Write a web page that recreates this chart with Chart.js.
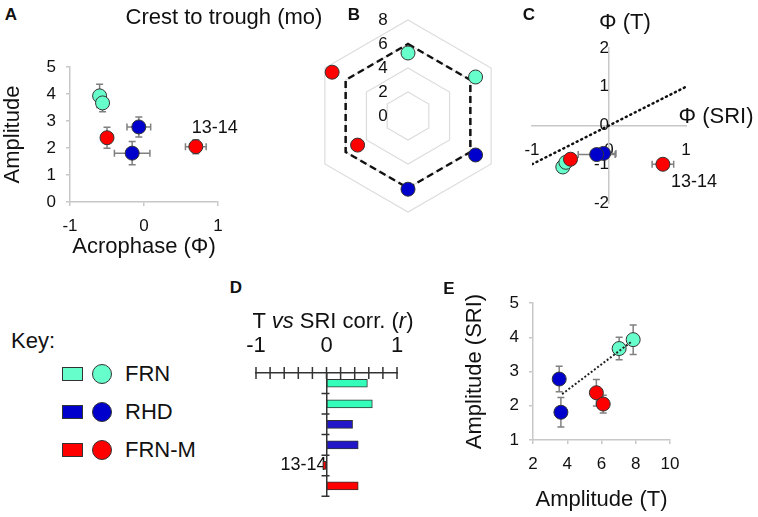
<!DOCTYPE html>
<html>
<head>
<meta charset="utf-8">
<script src="https://cdn.jsdelivr.net/npm/chart.js@4.4.1/dist/chart.umd.min.js"></script>
<style>
  body { margin: 0; background: #fff; }
  #fig { position: relative; width: 758px; height: 517px; overflow: hidden;
         font-family: "Liberation Sans", Arial, sans-serif; color: #111; }
  #fig canvas { position: absolute; }
  .lbl { position: absolute; transform: translate(-50%, -50%); line-height: 1; white-space: nowrap; }
  .big { font-size: 22px; }
  .tag { font-size: 17px; font-weight: bold; }
  .keytxt { position: absolute; transform: translate(0, -50%); line-height: 1; font-size: 22px; }
  .sw { position: absolute; border: 1px solid #333; box-sizing: border-box; }
  .dot { position: absolute; border: 1px solid #333; box-sizing: border-box; border-radius: 50%; }
</style>
</head>
<body>
<div id="fig">
  <canvas id="chartA" width="240" height="220" style="left:0;top:40px"></canvas>
  <canvas id="chartB" width="232" height="232" style="left:292px;top:0"></canvas>
  <canvas id="chartC" width="248" height="200" style="left:510px;top:30px"></canvas>
  <canvas id="chartD" width="250" height="217" style="left:200px;top:300px"></canvas>
  <canvas id="chartE" width="308" height="247" style="left:450px;top:270px"></canvas>

  <div class="lbl tag" style="left:11px;top:14px">A</div>
  <div class="lbl big" style="left:224px;top:17px">Crest to trough (mo)</div>
  <div class="lbl tag" style="left:354px;top:14px">B</div>
  <div class="lbl tag" style="left:529px;top:14px">C</div>
  <div class="lbl big" style="left:625px;top:22px">Φ (T)</div>
  <div class="lbl big" style="left:716px;top:116px">Φ (SRI)</div>
  <div class="lbl tag" style="left:236px;top:287px">D</div>
  <div class="lbl big" style="left:333px;top:321px">T <i>vs</i> SRI corr. (<i>r</i>)</div>
  <div class="lbl tag" style="left:449px;top:288px">E</div>

  <div class="lbl big" style="left:33px;top:341px">Key:</div>
  <div id="key"></div>
</div>

<script>
// Group of each entry (same order in A, B, C and E)
const groups = ['FRN', 'FRN', 'RHD', 'RHD', 'FRN-M', 'FRN-M'];
const notes = ['', '', '', '', '', '13-14'];

// A: SRI rhythm acrophase and amplitude
const sriPhase = [-0.6, -0.56, -0.07, -0.16, -0.5, 0.7];
const sriPhaseErr = [0.05, 0.04, 0.16, 0.24, 0.05, 0.14];
const sriAmp = [3.93, 3.67, 2.78, 1.81, 2.38, 2.05];
const sriAmpErr = [0.43, 0.33, 0.37, 0.43, 0.39, 0.26];

// B: crest to trough (months)
const crestTrough = [5.25, 6.5, 6.5, 6.1, 4.85, 7.3];
const crestRef = [6, 6, 6, 6, 6, 6];

// C: temperature acrophase vs SRI acrophase
const tPhase = [-1.07, -0.95, -0.72, -0.75, -0.87, -1.0];
const diagLine = [-1, 1];

// D: T vs SRI correlation, as listed top to bottom
const corrGroups = ['FRN', 'FRN', 'RHD', 'RHD', 'FRN-M', 'FRN-M'];
const corrLabels = ['', '', '', '', '13-14', ''];
const corrR = [0.58, 0.65, 0.37, 0.45, -0.05, 0.45];

// E: temperature amplitude vs SRI amplitude
const tAmp = [7.85, 7.03, 3.53, 3.63, 5.7, 6.1];
const trendX = [3.7, 7.8];
const trendY = [2.34, 3.89];

const keyGroups = ['FRN', 'RHD', 'FRN-M'];

const groupColor = { 'FRN': '#66FFCC', 'RHD': '#0000CC', 'FRN-M': '#FF0000' };
const barColor = { 'FRN': '#33FFBB', 'RHD': '#2318C8', 'FRN-M': '#FF0000' };
const FONT = '"Liberation Sans", Arial, sans-serif';
const AXIS_GRAY = '#c8c8c8';

Chart.defaults.font.family = FONT;
Chart.defaults.color = '#111';
Chart.defaults.animation = false;
Chart.defaults.plugins.legend.display = false;
Chart.defaults.plugins.tooltip.enabled = false;

// error bars from dataset.errX / dataset.errY
const errorBars = {
  id: 'errorBars',
  beforeDatasetsDraw(chart) {
    const { ctx, scales: { x, y } } = chart;
    const cap = 3.5;
    ctx.save();
    ctx.strokeStyle = '#808080';
    ctx.lineWidth = 1.5;
    chart.data.datasets.forEach(ds => {
      if (!ds.errX && !ds.errY) return;
      ds.data.forEach((p, i) => {
        const px = x.getPixelForValue(p.x), py = y.getPixelForValue(p.y);
        ctx.beginPath();
        if (ds.errX && ds.errX[i]) {
          const x0 = x.getPixelForValue(p.x - ds.errX[i]), x1 = x.getPixelForValue(p.x + ds.errX[i]);
          ctx.moveTo(x0, py); ctx.lineTo(x1, py);
          ctx.moveTo(x0, py - cap); ctx.lineTo(x0, py + cap);
          ctx.moveTo(x1, py - cap); ctx.lineTo(x1, py + cap);
        }
        if (ds.errY && ds.errY[i]) {
          const y0 = y.getPixelForValue(p.y - ds.errY[i]), y1 = y.getPixelForValue(p.y + ds.errY[i]);
          ctx.moveTo(px, y0); ctx.lineTo(px, y1);
          ctx.moveTo(px - cap, y0); ctx.lineTo(px + cap, y0);
          ctx.moveTo(px - cap, y1); ctx.lineTo(px + cap, y1);
        }
        ctx.stroke();
      });
    });
    ctx.restore();
  }
};

// small text next to a point (the "13-14" note)
const pointNotes = {
  id: 'pointNotes',
  afterDatasetsDraw(chart, args, opts) {
    const ctx = chart.ctx;
    ctx.save();
    ctx.font = '18px ' + FONT;
    ctx.fillStyle = '#111';
    ctx.textAlign = 'center';
    ctx.textBaseline = 'middle';
    chart.data.datasets.forEach((ds, d) => {
      if (!ds.notes) return;
      chart.getDatasetMeta(d).data.forEach((el, i) => {
        if (ds.notes[i]) ctx.fillText(ds.notes[i], el.x + opts.dx, el.y + opts.dy);
      });
    });
    ctx.restore();
  }
};

// radar tick labels, drawn a bit left of the top spoke
const radarTickLabels = {
  id: 'radarTickLabels',
  afterDatasetsDraw(chart, args, opts) {
    const r = chart.scales.r, ctx = chart.ctx;
    ctx.save();
    ctx.font = '17px ' + FONT;
    ctx.fillStyle = '#111';
    ctx.textAlign = 'center';
    ctx.textBaseline = 'middle';
    r.ticks.forEach(t => {
      ctx.fillText(String(t.value), r.xCenter + opts.dx, r.yCenter - r.getDistanceFromCenterForValue(t.value));
    });
    ctx.restore();
  }
};

// tick marks crossing the axis lines in D
const crossTicks = {
  id: 'crossTicks',
  afterDraw(chart) {
    const { ctx, scales: { x, y } } = chart;
    const top = y.top, x0 = x.getPixelForValue(0);
    ctx.save();
    ctx.strokeStyle = '#333';
    ctx.lineWidth = 1.5;
    ctx.beginPath();
    x.ticks.forEach(t => {
      const px = x.getPixelForValue(t.value);
      ctx.moveTo(px, top - 6); ctx.lineTo(px, top + 6);
    });
    for (let i = 1; i <= corrR.length; i++) {
      const py = y.getPixelForValue(i - 0.5);
      ctx.moveTo(x0 - 5, py); ctx.lineTo(x0 + 3, py);
    }
    ctx.stroke();
    ctx.restore();
  }
};

const pointColors = groups.map(g => groupColor[g]);
const pointStyle = {
  pointRadius: 7,
  pointBackgroundColor: pointColors,
  pointBorderColor: '#333',
  pointBorderWidth: 1,
  clip: false
};

function grayAxis(min, max, step, extra) {
  return Object.assign({
    type: 'linear', min, max,
    ticks: { stepSize: step, font: { size: 17 }, padding: 10 },
    grid: { drawOnChartArea: false, drawTicks: true, tickLength: 4, color: AXIS_GRAY, lineWidth: 1.5 },
    border: { color: AXIS_GRAY, width: 1.5 }
  }, extra);
}

// A
new Chart(document.getElementById('chartA'), {
  type: 'scatter',
  data: {
    datasets: [Object.assign({
      data: sriPhase.map((x, i) => ({ x, y: sriAmp[i] })),
      errX: sriPhaseErr, errY: sriAmpErr, notes
    }, pointStyle)]
  },
  options: {
    responsive: false,
    layout: { padding: { top: 27, right: 22 } },
    plugins: { pointNotes: { dx: 19, dy: -19 } },
    scales: {
      x: grayAxis(-1, 1, 1, {
        title: { display: true, text: 'Acrophase (Φ)', font: { size: 22 }, padding: 0 },
        afterFit: s => { s.height = 58; }
      }),
      y: grayAxis(0, 5, 1, {
        title: { display: true, text: 'Amplitude', font: { size: 22 }, padding: 0 },
        afterFit: s => { s.width = 70; }
      })
    }
  },
  plugins: [errorBars, pointNotes]
});

// B
new Chart(document.getElementById('chartB'), {
  type: 'radar',
  data: {
    labels: groups,
    datasets: [{
      data: crestTrough,
      showLine: false,
      fill: false,
      borderWidth: 0,
      pointRadius: 7,
      pointBackgroundColor: pointColors,
      pointBorderColor: '#333',
      pointBorderWidth: 1
    }, {
      data: crestRef,
      fill: false,
      borderColor: '#111',
      borderWidth: 2.5,
      borderDash: [7, 4],
      pointRadius: 0
    }]
  },
  options: {
    responsive: false,
    layout: { padding: 20 },
    elements: { line: { tension: 0 } },
    plugins: { radarTickLabels: { dx: -25 } },
    scales: {
      r: {
        min: 0, max: 8,
        ticks: { stepSize: 2, display: false },
        grid: { color: '#dcdcdc', lineWidth: 1.2 },
        angleLines: { display: false },
        pointLabels: { display: false }
      }
    }
  },
  plugins: [radarTickLabels]
});

// C
new Chart(document.getElementById('chartC'), {
  type: 'scatter',
  data: {
    datasets: [{
      data: diagLine.map(v => ({ x: v, y: v })),
      showLine: true,
      borderColor: '#111',
      borderWidth: 2.5,
      borderDash: [1, 4],
      borderCapStyle: 'round',
      pointRadius: 0
    }, Object.assign({
      data: sriPhase.map((x, i) => ({ x, y: tPhase[i] })),
      errX: sriPhaseErr, notes
    }, pointStyle)]
  },
  options: {
    responsive: false,
    layout: { padding: { left: 22, right: 72, top: 18, bottom: 27 } },
    plugins: { pointNotes: { dx: 31, dy: 18 } },
    scales: {
      x: {
        type: 'linear', min: -1, max: 1, position: { y: 0 },
        ticks: { stepSize: 1, font: { size: 17 }, padding: 7 },
        grid: { display: false },
        border: { color: AXIS_GRAY, width: 1.5 }
      },
      y: {
        type: 'linear', min: -2, max: 2, position: { x: 0 },
        ticks: { stepSize: 1, font: { size: 17 }, padding: 6 },
        grid: { display: false },
        border: { color: AXIS_GRAY, width: 1.5 }
      }
    }
  },
  plugins: [errorBars, pointNotes]
});

// D
new Chart(document.getElementById('chartD'), {
  type: 'bar',
  data: {
    labels: corrLabels,
    datasets: [{
      data: corrR,
      backgroundColor: corrGroups.map(g => barColor[g]),
      borderColor: '#333',
      borderWidth: 1,
      borderSkipped: false,
      barThickness: 8
    }]
  },
  options: {
    responsive: false,
    indexAxis: 'y',
    layout: { padding: { left: 56, right: 53, bottom: 9 } },
    scales: {
      x: {
        type: 'linear', position: 'top', min: -1, max: 1,
        ticks: {
          stepSize: 0.2, autoSkip: false, maxRotation: 0, minRotation: 0,
          font: { size: 22 }, padding: 14,
          callback: v => Math.abs(v - Math.round(v)) < 1e-6 ? String(Math.round(v)) : ''
        },
        grid: { drawOnChartArea: false, drawTicks: false },
        border: { color: '#333', width: 1.5 },
        afterFit: s => { s.height = 73; }
      },
      y: {
        type: 'category', position: { x: 0 }, offset: true,
        ticks: { font: { size: 18 }, padding: 10 },
        grid: { drawOnChartArea: false, drawTicks: false },
        border: { color: '#333', width: 1.5 }
      }
    }
  },
  plugins: [crossTicks]
});

// E
new Chart(document.getElementById('chartE'), {
  type: 'scatter',
  data: {
    datasets: [{
      data: trendX.map((x, i) => ({ x, y: trendY[i] })),
      showLine: true,
      borderColor: '#222',
      borderWidth: 2,
      borderDash: [2, 2],
      pointRadius: 0
    }, Object.assign({
      data: tAmp.map((x, i) => ({ x, y: sriAmp[i] })),
      errY: sriAmpErr
    }, pointStyle)]
  },
  options: {
    responsive: false,
    layout: { padding: { top: 33, right: 88 } },
    scales: {
      x: grayAxis(2, 10, 2, {
        title: { display: true, text: 'Amplitude (T)', font: { size: 22 }, padding: { bottom: 4 } },
        afterFit: s => { s.height = 77; }
      }),
      y: grayAxis(1, 5, 1, {
        title: { display: true, text: 'Amplitude (SRI)', font: { size: 22 }, padding: { top: 12 } },
        afterFit: s => { s.width = 83; }
      })
    }
  },
  plugins: [errorBars]
});

// Key
const keyRowsY = [374, 412, 450];
const key = document.getElementById('key');
keyGroups.forEach((g, i) => {
  const cy = keyRowsY[i];
  key.insertAdjacentHTML('beforeend',
    `<div class="sw" style="left:62px;top:${cy - 7}px;width:21px;height:14px;background:${groupColor[g]}"></div>` +
    `<div class="dot" style="left:92px;top:${cy - 10}px;width:20px;height:20px;background:${groupColor[g]}"></div>` +
    `<div class="keytxt" style="left:125px;top:${cy}px">${g}</div>`);
});
</script>
</body>
</html>
